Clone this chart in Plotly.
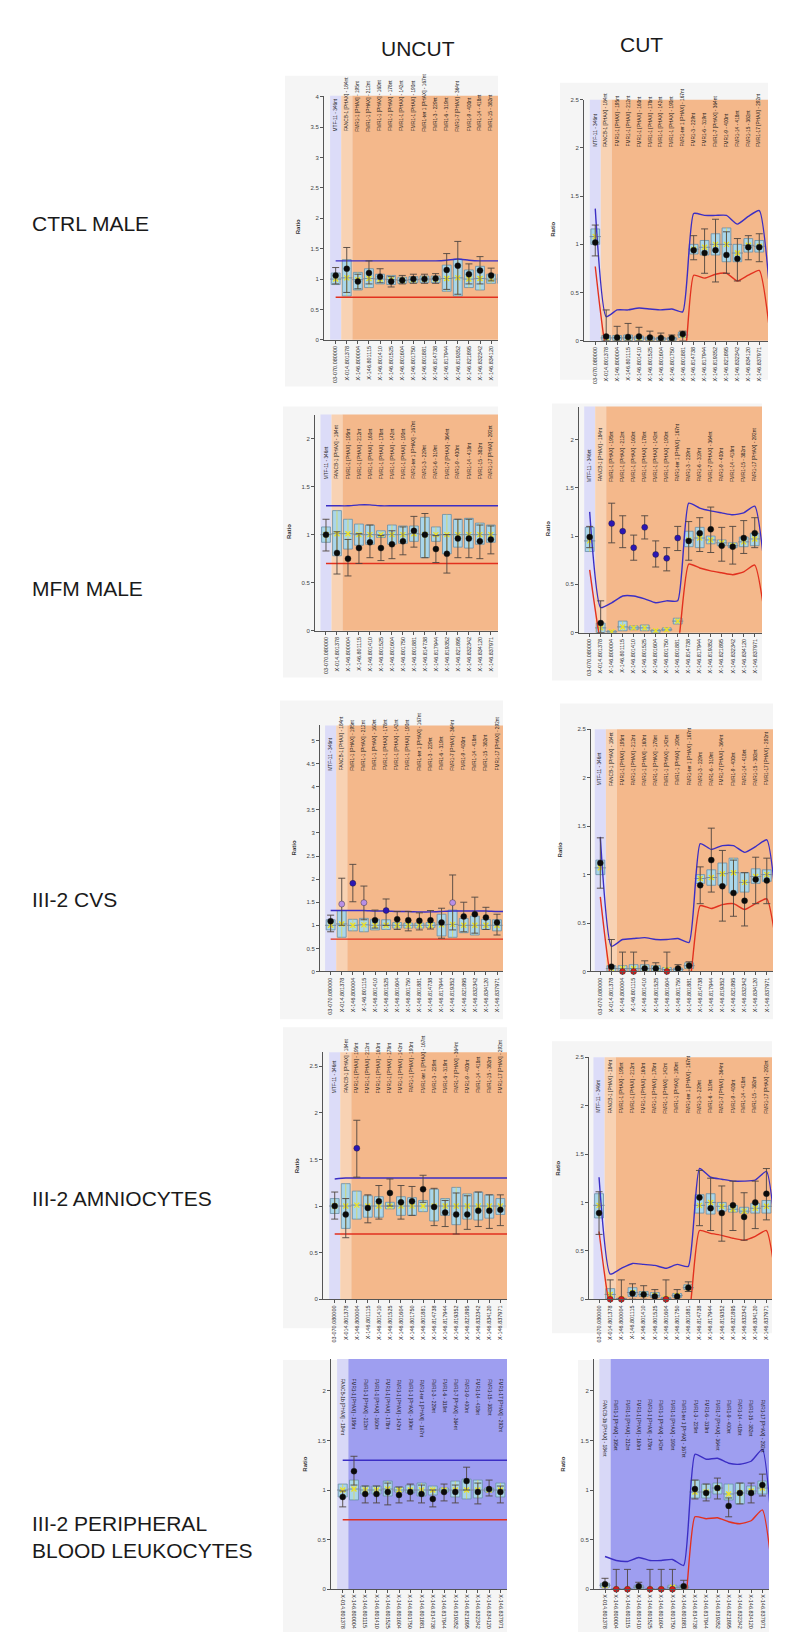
import plotly.graph_objects as go

# page is rendered inside a body with an 8px default margin: lay out in window pixels
OFF = 8
WIN_W, WIN_H = 790, 1651
W, H = WIN_W - OFF, WIN_H - OFF
FONT = "Liberation Sans, Arial, sans-serif"


def px(x):
    return (x - OFF) / W


def py(y):
    return 1 - (y - OFF) / H


# ---------------- labels ----------------
column_titles = ["UNCUT", "CUT"]
row_titles = ["CTRL MALE", "MFM MALE", "III-2 CVS", "III-2 AMNIOCYTES",
              "III-2 PERIPHERAL<br>BLOOD LEUKOCYTES"]

probe_ids = ["03-070.080000", "X-014.801378", "X-146.800004", "X-146.801115",
             "X-146.801410", "X-146.801525", "X-146.801604", "X-146.801750",
             "X-146.801881", "X-146.814738", "X-146.817944", "X-146.819352",
             "X-146.821895", "X-146.832342", "X-146.834120", "X-146.837971"]
probe_names = ["MTF-11 - 346nt", "FANCB-1 [PHAX] - 184nt", "FMR1-1 [PHAX] - 195nt",
               "FMR1-1 [PHAX] - 212nt", "FMR1-1 [PHAX] - 160nt", "FMR1-1 [PHAX] - 178nt",
               "FMR1-1 [PHAX] - 142nt", "FMR1-1 [PHAX] - 190nt", "FMR1-ter 1 [PHAX] - 167nt",
               "FMR1-3 - 229nt", "FMR1-6 - 319nt", "FMR1-7 [PHAX] - 364nt", "FMR1-9 - 400nt",
               "FMR1-14 - 418nt", "FMR1-15 - 382nt", "FMR1-17 [PHAX] - 292nt"]
pbl_ids = probe_ids[1:]
pbl_names = ["FANCB-1b [PHAX] - 184nt"] + probe_names[2:]

# ---------------- data: CTRL MALE uncut ----------------
ctrl_u_boxlo = [0.91, 0.72, 0.82, 0.86, 0.92, 0.91, 0.93, 0.94, 0.94, 0.94, 0.80, 0.72, 0.86, 0.82, 0.93, 0.93]
ctrl_u_boxhi = [1.10, 1.32, 1.11, 1.17, 1.08, 1.06, 1.03, 1.04, 1.05, 1.05, 1.23, 1.33, 1.15, 1.21, 1.08, 1.08]
ctrl_u_mean = [1.00, 1.02, 0.99, 1.01, 1.00, 0.99, 0.98, 0.99, 1.00, 1.00, 1.01, 1.02, 1.00, 1.01, 1.00, 1.00]
ctrl_u_dot = [1.06, 1.17, 0.96, 1.10, 1.04, 0.96, 0.98, 1.00, 1.00, 1.01, 1.15, 1.22, 1.08, 1.14, 1.06, 1.04]
ctrl_u_errlo = [0.92, 0.78, 0.84, 0.92, 0.94, 0.87, 0.92, 0.93, 0.93, 0.93, 0.83, 0.75, 0.92, 0.92, 0.97, 0.95]
ctrl_u_errhi = [1.19, 1.52, 1.08, 1.30, 1.17, 1.04, 1.06, 1.08, 1.08, 1.09, 1.42, 1.62, 1.25, 1.37, 1.18, 1.14]
ctrl_u_col = ["k"] * 16
ctrl_u_upper = [1.30, 1.30, 1.30, 1.30, 1.30, 1.30, 1.30, 1.30, 1.30, 1.30, 1.31, 1.33, 1.31, 1.30, 1.30, 1.30, 1.30]
ctrl_u_lower = [0.70, 0.70, 0.70, 0.70, 0.70, 0.70, 0.70, 0.70, 0.70, 0.70, 0.70, 0.70, 0.70, 0.70, 0.70, 0.70, 0.70]

# ---------------- CTRL MALE cut ----------------
ctrl_c_boxlo = [1.00, 0.00, 0.00, 0.00, 0.00, 0.00, 0.00, 0.00, 0.035, 0.90, 0.89, 0.89, 0.82, 0.82, 0.92, 0.92]
ctrl_c_boxhi = [1.16, 0.055, 0.055, 0.06, 0.05, 0.04, 0.035, 0.035, 0.09, 1.00, 1.04, 1.11, 1.17, 1.00, 1.06, 1.04]
ctrl_c_mean = [1.08, 0.03, 0.03, 0.03, 0.03, 0.02, 0.02, 0.02, 0.06, 0.95, 0.97, 1.00, 1.00, 0.91, 0.99, 0.98]
ctrl_c_dot = [1.02, 0.045, 0.035, 0.04, 0.045, 0.035, 0.03, 0.03, 0.07, 0.94, 0.91, 0.94, 0.89, 0.85, 0.97, 0.97]
ctrl_c_errlo = [0.88, 0.0, 0.0, 0.0, 0.0, 0.0, 0.0, 0.0, 0.0, 0.84, 0.70, 0.61, 0.70, 0.62, 0.84, 0.82]
ctrl_c_errhi = [1.20, 0.32, 0.15, 0.18, 0.14, 0.10, 0.08, 0.06, 0.10, 1.09, 1.16, 1.26, 1.13, 1.06, 1.09, 1.11]
ctrl_c_col = ["k"] * 16
ctrl_c_upper = [1.37, 0.25, 0.32, 0.32, 0.34, 0.33, 0.32, 0.33, 0.30, 1.32, 1.30, 1.30, 1.30, 1.21, 1.29, 1.35, 0.45]
ctrl_c_lower = [0.77, -0.10, -0.35, -0.35, -0.35, -0.35, -0.35, -0.35, -0.30, 0.68, 0.65, 0.69, 0.70, 0.62, 0.68, 0.73, 0.05]

# ---------------- MFM MALE uncut ----------------
mfm_u_boxlo = [0.92, 0.78, 0.85, 0.89, 0.90, 0.97, 0.90, 0.91, 0.93, 0.76, 0.93, 0.80, 0.87, 0.86, 0.90, 0.92]
mfm_u_boxhi = [1.08, 1.25, 1.16, 1.11, 1.10, 1.04, 1.10, 1.09, 1.09, 1.18, 1.08, 1.21, 1.16, 1.17, 1.12, 1.10]
mfm_u_mean = [1.00, 1.01, 1.01, 1.00, 1.00, 1.00, 1.00, 1.00, 1.01, 1.00, 1.00, 1.00, 1.00, 1.00, 1.00, 1.00]
mfm_u_dot = [1.00, 0.81, 0.75, 0.86, 0.92, 0.86, 0.90, 0.93, 1.04, 1.00, 0.85, 0.80, 0.96, 0.96, 0.93, 0.95]
mfm_u_errlo = [0.83, 0.59, 0.57, 0.70, 0.76, 0.73, 0.75, 0.79, 0.87, 0.76, 0.71, 0.60, 0.76, 0.76, 0.75, 0.80]
mfm_u_errhi = [1.16, 1.03, 0.95, 1.01, 1.10, 0.99, 1.04, 1.08, 1.19, 1.22, 0.99, 1.00, 1.16, 1.16, 1.10, 1.09]
mfm_u_col = ["k"] * 16
mfm_u_upper = [1.30, 1.30, 1.30, 1.31, 1.31, 1.30, 1.30, 1.30, 1.30, 1.30, 1.30, 1.30, 1.30, 1.30, 1.30, 1.30, 1.30]
mfm_u_lower = [0.70, 0.70, 0.70, 0.70, 0.70, 0.70, 0.70, 0.70, 0.70, 0.70, 0.70, 0.70, 0.70, 0.70, 0.70, 0.70, 0.70]

# ---------------- MFM MALE cut ----------------
mfm_c_boxlo = [0.84, 0.00, 0.00, 0.02, 0.03, 0.02, 0.00, 0.02, 0.09, 0.89, 0.88, 0.92, 0.90, 0.88, 0.89, 0.90]
mfm_c_boxhi = [1.09, 0.10, 0.02, 0.12, 0.07, 0.08, 0.03, 0.05, 0.15, 1.05, 1.09, 1.00, 0.96, 0.93, 0.99, 1.03]
mfm_c_mean = [0.95, 0.05, 0.01, 0.06, 0.05, 0.05, 0.02, 0.03, 0.12, 0.96, 0.98, 0.96, 0.93, 0.90, 0.94, 0.97]
mfm_c_dot = [0.99, 0.10, 1.13, 1.05, 0.88, 1.09, 0.81, 0.77, 0.98, 0.95, 1.03, 1.07, 0.90, 0.89, 0.98, 1.03]
mfm_c_errlo = [0.88, 0.00, 0.93, 0.88, 0.75, 0.97, 0.68, 0.64, 0.85, 0.75, 0.84, 0.83, 0.74, 0.71, 0.82, 0.88]
mfm_c_errhi = [1.10, 0.33, 1.34, 1.21, 1.01, 1.21, 0.95, 0.88, 1.10, 1.15, 1.19, 1.30, 1.09, 1.10, 1.16, 1.19]
mfm_c_col = ["k", "k", "b", "b", "b", "b", "b", "b", "b", "k", "k", "k", "k", "k", "k", "k"]
mfm_c_upper = [1.25, 0.26, 0.31, 0.38, 0.38, 0.35, 0.31, 0.33, 0.33, 1.34, 1.29, 1.26, 1.24, 1.22, 1.24, 1.31, 0.55]
mfm_c_lower = [0.65, -0.10, -0.40, -0.40, -0.40, -0.40, -0.40, -0.40, -0.15, 0.71, 0.67, 0.64, 0.62, 0.60, 0.63, 0.70, 0.10]

# ---------------- III-2 CVS uncut ----------------
cvs_u_boxlo = [0.90, 0.74, 0.88, 0.86, 0.90, 0.91, 0.94, 0.94, 0.94, 0.95, 0.77, 0.74, 0.84, 0.79, 0.91, 0.88]
cvs_u_boxhi = [1.12, 1.32, 1.13, 1.15, 1.13, 1.12, 1.06, 1.05, 1.05, 1.06, 1.24, 1.33, 1.15, 1.20, 1.13, 1.12]
cvs_u_mean = [1.00, 1.03, 1.00, 1.01, 1.00, 1.00, 1.00, 1.00, 1.00, 1.00, 1.01, 1.02, 1.00, 1.00, 1.00, 1.00]
cvs_u_dot = [1.09, 1.46, 1.91, 1.49, 1.11, 1.32, 1.13, 1.11, 1.10, 1.11, 1.06, 1.49, 1.19, 1.24, 1.17, 1.06]
cvs_u_errlo = [0.86, 1.00, 1.51, 1.12, 0.94, 1.00, 0.91, 0.88, 0.90, 0.92, 0.72, 0.90, 0.86, 0.83, 0.91, 0.79]
cvs_u_errhi = [1.22, 2.02, 2.32, 1.85, 1.33, 1.57, 1.30, 1.30, 1.27, 1.32, 1.37, 2.09, 1.50, 1.61, 1.39, 1.24]
cvs_u_col = ["k", "p", "b", "p", "k", "b", "k", "k", "k", "k", "k", "p", "k", "k", "k", "k"]
cvs_u_upper = [1.32, 1.32, 1.32, 1.32, 1.31, 1.31, 1.30, 1.30, 1.29, 1.29, 1.30, 1.31, 1.31, 1.31, 1.31, 1.30, 1.30]
cvs_u_lower = [0.70, 0.70, 0.70, 0.70, 0.70, 0.70, 0.70, 0.70, 0.70, 0.70, 0.70, 0.70, 0.70, 0.70, 0.70, 0.70, 0.70]

# ---------------- III-2 CVS cut ----------------
cvs_c_boxlo = [1.00, 0.00, 0.00, 0.00, 0.00, 0.00, 0.00, 0.00, 0.03, 0.91, 0.89, 0.89, 0.81, 0.82, 0.91, 0.93]
cvs_c_boxhi = [1.15, 0.06, 0.06, 0.07, 0.07, 0.06, 0.04, 0.035, 0.09, 1.00, 1.05, 1.12, 1.17, 1.02, 1.06, 1.05]
cvs_c_mean = [1.07, 0.03, 0.03, 0.03, 0.03, 0.03, 0.02, 0.02, 0.06, 0.96, 0.97, 1.01, 1.02, 0.92, 0.98, 1.00]
cvs_c_dot = [1.12, 0.05, 0.00, 0.00, 0.03, 0.03, 0.00, 0.03, 0.06, 0.89, 1.15, 0.88, 0.81, 0.73, 0.95, 0.94]
cvs_c_errlo = [0.86, 0.00, 0.00, 0.00, 0.00, 0.00, 0.00, 0.00, 0.00, 0.70, 0.82, 0.52, 0.57, 0.47, 0.70, 0.70]
cvs_c_errhi = [1.38, 0.33, 0.20, 0.20, 0.11, 0.09, 0.20, 0.07, 0.10, 1.08, 1.48, 1.25, 1.15, 1.02, 1.18, 1.17]
cvs_c_col = ["k", "k", "r", "r", "k", "k", "r", "k", "k", "k", "k", "k", "k", "k", "k", "k"]
cvs_c_upper = [1.39, 0.26, 0.33, 0.34, 0.35, 0.33, 0.33, 0.34, 0.30, 1.32, 1.26, 1.30, 1.30, 1.23, 1.29, 1.36, 0.50]
cvs_c_lower = [0.77, -0.10, -0.35, -0.35, -0.35, -0.35, -0.35, -0.35, -0.15, 0.68, 0.65, 0.69, 0.70, 0.64, 0.70, 0.75, 0.15]

# ---------------- III-2 AMNIOCYTES uncut ----------------
amn_u_boxlo = [0.92, 0.76, 0.86, 0.88, 0.88, 0.97, 0.90, 0.90, 0.94, 0.84, 0.90, 0.80, 0.86, 0.85, 0.87, 0.91]
amn_u_boxhi = [1.08, 1.24, 1.16, 1.11, 1.10, 1.04, 1.10, 1.09, 1.06, 1.18, 1.08, 1.20, 1.13, 1.15, 1.12, 1.08]
amn_u_mean = [1.00, 1.00, 1.01, 1.00, 1.00, 1.00, 1.00, 1.00, 1.00, 1.00, 1.00, 1.00, 1.00, 1.00, 1.00, 1.00]
amn_u_dot = [1.00, 0.91, 1.62, 0.98, 1.05, 1.14, 1.04, 1.05, 1.18, 0.99, 0.93, 0.91, 0.91, 0.95, 0.95, 0.96]
amn_u_errlo = [0.86, 0.66, 1.31, 0.82, 0.86, 1.00, 0.86, 0.90, 1.04, 0.79, 0.78, 0.70, 0.75, 0.78, 0.76, 0.79]
amn_u_errhi = [1.15, 1.08, 1.92, 1.12, 1.22, 1.29, 1.22, 1.21, 1.33, 1.19, 1.06, 1.14, 1.11, 1.15, 1.12, 1.12]
amn_u_col = ["k", "k", "b", "k", "k", "k", "k", "k", "k", "k", "k", "k", "k", "k", "k", "k"]
amn_u_upper = [1.29, 1.30, 1.30, 1.30, 1.30, 1.30, 1.30, 1.30, 1.30, 1.30, 1.30, 1.30, 1.30, 1.30, 1.30, 1.30, 1.30]
amn_u_lower = [0.70, 0.70, 0.70, 0.70, 0.70, 0.70, 0.70, 0.70, 0.70, 0.70, 0.70, 0.70, 0.70, 0.70, 0.70, 0.70, 0.70]

# ---------------- III-2 AMNIOCYTES cut ----------------
amn_c_boxlo = [0.84, 0.00, 0.00, 0.03, 0.03, 0.02, 0.00, 0.02, 0.10, 0.89, 0.88, 0.91, 0.90, 0.89, 0.89, 0.89]
amn_c_boxhi = [1.09, 0.11, 0.01, 0.12, 0.08, 0.07, 0.02, 0.06, 0.15, 1.08, 1.09, 1.00, 0.97, 0.95, 0.99, 1.02]
amn_c_mean = [0.97, 0.05, 0.005, 0.07, 0.05, 0.04, 0.01, 0.04, 0.12, 0.97, 1.00, 0.96, 0.93, 0.91, 0.94, 0.96]
amn_c_dot = [0.89, 0.00, 0.00, 0.06, 0.05, 0.03, 0.00, 0.03, 0.12, 1.05, 0.94, 0.89, 0.97, 0.85, 1.00, 1.09]
amn_c_errlo = [0.67, 0.00, 0.00, 0.00, 0.00, 0.00, 0.00, 0.00, 0.08, 0.76, 0.71, 0.60, 0.71, 0.61, 0.73, 0.82]
amn_c_errhi = [1.11, 0.20, 0.20, 0.16, 0.14, 0.10, 0.20, 0.10, 0.18, 1.33, 1.25, 1.17, 1.22, 1.10, 1.22, 1.35]
amn_c_col = ["k", "r", "r", "k", "k", "k", "r", "k", "k", "k", "k", "k", "k", "k", "k", "k"]
amn_c_upper = [1.26, 0.26, 0.32, 0.37, 0.36, 0.35, 0.32, 0.36, 0.34, 1.35, 1.26, 1.24, 1.22, 1.22, 1.23, 1.32, 0.45]
amn_c_lower = [0.70, -0.10, -0.35, -0.35, -0.35, -0.35, -0.35, -0.35, -0.20, 0.71, 0.68, 0.66, 0.63, 0.61, 0.65, 0.71, 0.05]

# ---------------- III-2 PBL uncut (15 probes) ----------------
pbl_u_boxlo = [0.93, 0.90, 0.96, 0.96, 0.94, 0.98, 0.97, 0.94, 0.95, 0.98, 0.93, 0.91, 0.92, 0.98, 0.93]
pbl_u_boxhi = [1.06, 1.10, 1.04, 1.04, 1.09, 1.03, 1.05, 1.07, 1.04, 1.02, 1.09, 1.11, 1.10, 1.02, 1.07]
pbl_u_mean = [1.00, 1.01, 1.00, 1.00, 1.01, 1.00, 1.00, 1.00, 1.00, 1.00, 1.00, 1.00, 1.00, 1.00, 1.00]
pbl_u_dot = [0.93, 1.19, 0.96, 0.96, 0.98, 0.95, 0.98, 0.96, 0.91, 0.98, 0.98, 1.09, 0.98, 1.01, 0.98]
pbl_u_errlo = [0.83, 1.05, 0.87, 0.87, 0.85, 0.87, 0.89, 0.87, 0.83, 0.89, 0.87, 1.00, 0.86, 0.94, 0.87]
pbl_u_errhi = [0.99, 1.34, 1.04, 1.04, 1.07, 1.03, 1.06, 1.05, 1.00, 1.06, 1.05, 1.23, 1.07, 1.10, 1.04]
pbl_u_col = ["k"] * 15
pbl_u_upper = [1.30, 1.30, 1.30, 1.30, 1.30, 1.30, 1.30, 1.30, 1.30, 1.30, 1.30, 1.30, 1.30, 1.30, 1.30, 1.30]
pbl_u_lower = [0.70, 0.70, 0.70, 0.70, 0.70, 0.70, 0.70, 0.70, 0.70, 0.70, 0.70, 0.70, 0.70, 0.70, 0.70, 0.70]

# ---------------- III-2 PBL cut (15 probes) ----------------
pbl_c_boxlo = [0.02, 0.00, 0.00, 0.00, 0.00, 0.00, 0.00, 0.00, 0.92, 0.92, 0.96, 0.90, 0.86, 0.96, 0.96]
pbl_c_boxhi = [0.06, 0.005, 0.005, 0.04, 0.005, 0.005, 0.04, 0.04, 1.10, 1.06, 1.07, 1.06, 1.07, 1.04, 1.09]
pbl_c_mean = [0.04, 0.00, 0.00, 0.02, 0.00, 0.00, 0.02, 0.02, 0.98, 0.98, 1.02, 0.96, 0.97, 0.99, 1.02]
pbl_c_dot = [0.05, 0.00, 0.00, 0.03, 0.00, 0.00, 0.00, 0.03, 1.01, 0.97, 1.02, 0.84, 0.97, 0.97, 1.05]
pbl_c_errlo = [0.00, 0.00, 0.00, 0.00, 0.00, 0.00, 0.00, 0.00, 0.91, 0.89, 0.91, 0.73, 0.86, 0.87, 0.94]
pbl_c_errhi = [0.11, 0.20, 0.20, 0.07, 0.20, 0.20, 0.20, 0.09, 1.10, 1.06, 1.12, 0.92, 1.07, 1.07, 1.16]
pbl_c_col = ["k", "r", "r", "k", "r", "r", "r", "k", "k", "k", "k", "k", "k", "k", "k"]
pbl_c_upper = [0.33, 0.29, 0.28, 0.32, 0.29, 0.29, 0.30, 0.24, 1.36, 1.31, 1.32, 1.27, 1.26, 1.29, 1.41, 0.35]
pbl_c_lower = [-0.40, -0.40, -0.40, -0.40, -0.40, -0.40, -0.40, -0.25, 0.73, 0.71, 0.72, 0.68, 0.66, 0.69, 0.80, 0.05]

panels = [
    dict(boxlo=ctrl_u_boxlo, boxhi=ctrl_u_boxhi, mean=ctrl_u_mean, dot=ctrl_u_dot, errlo=ctrl_u_errlo, errhi=ctrl_u_errhi, col=ctrl_u_col, upper=ctrl_u_upper, lower=ctrl_u_lower, ids=probe_ids, names=probe_names),
    dict(boxlo=ctrl_c_boxlo, boxhi=ctrl_c_boxhi, mean=ctrl_c_mean, dot=ctrl_c_dot, errlo=ctrl_c_errlo, errhi=ctrl_c_errhi, col=ctrl_c_col, upper=ctrl_c_upper, lower=ctrl_c_lower, ids=probe_ids, names=probe_names),
    dict(boxlo=mfm_u_boxlo, boxhi=mfm_u_boxhi, mean=mfm_u_mean, dot=mfm_u_dot, errlo=mfm_u_errlo, errhi=mfm_u_errhi, col=mfm_u_col, upper=mfm_u_upper, lower=mfm_u_lower, ids=probe_ids, names=probe_names),
    dict(boxlo=mfm_c_boxlo, boxhi=mfm_c_boxhi, mean=mfm_c_mean, dot=mfm_c_dot, errlo=mfm_c_errlo, errhi=mfm_c_errhi, col=mfm_c_col, upper=mfm_c_upper, lower=mfm_c_lower, ids=probe_ids, names=probe_names),
    dict(boxlo=cvs_u_boxlo, boxhi=cvs_u_boxhi, mean=cvs_u_mean, dot=cvs_u_dot, errlo=cvs_u_errlo, errhi=cvs_u_errhi, col=cvs_u_col, upper=cvs_u_upper, lower=cvs_u_lower, ids=probe_ids, names=probe_names),
    dict(boxlo=cvs_c_boxlo, boxhi=cvs_c_boxhi, mean=cvs_c_mean, dot=cvs_c_dot, errlo=cvs_c_errlo, errhi=cvs_c_errhi, col=cvs_c_col, upper=cvs_c_upper, lower=cvs_c_lower, ids=probe_ids, names=probe_names),
    dict(boxlo=amn_u_boxlo, boxhi=amn_u_boxhi, mean=amn_u_mean, dot=amn_u_dot, errlo=amn_u_errlo, errhi=amn_u_errhi, col=amn_u_col, upper=amn_u_upper, lower=amn_u_lower, ids=probe_ids, names=probe_names),
    dict(boxlo=amn_c_boxlo, boxhi=amn_c_boxhi, mean=amn_c_mean, dot=amn_c_dot, errlo=amn_c_errlo, errhi=amn_c_errhi, col=amn_c_col, upper=amn_c_upper, lower=amn_c_lower, ids=probe_ids, names=probe_names),
    dict(boxlo=pbl_u_boxlo, boxhi=pbl_u_boxhi, mean=pbl_u_mean, dot=pbl_u_dot, errlo=pbl_u_errlo, errhi=pbl_u_errhi, col=pbl_u_col, upper=pbl_u_upper, lower=pbl_u_lower, ids=pbl_ids, names=pbl_names),
    dict(boxlo=pbl_c_boxlo, boxhi=pbl_c_boxhi, mean=pbl_c_mean, dot=pbl_c_dot, errlo=pbl_c_errlo, errhi=pbl_c_errhi, col=pbl_c_col, upper=pbl_c_upper, lower=pbl_c_lower, ids=pbl_ids, names=pbl_names),
]

# ---------------- geometry / style (window pixels) ----------------
geoms = [
    dict(L=324, R=498, T=93, B=338, xr=(-1.05, 14.62), ymax=4.02, laby=3.40, card=(285, 73, 498, 385), pbl=False),
    dict(L=584, R=768, T=97, B=339, xr=(-1.03, 15.8), ymax=2.5, laby=1.99, card=(560, 80, 768, 378), pbl=False),
    dict(L=315, R=498, T=413, B=630, xr=(-1.0, 15.65), ymax=2.25, laby=1.56, card=(283, 405, 498, 677), pbl=False),
    dict(L=579, R=762, T=405, B=632, xr=(-0.97, 15.66), ymax=2.34, laby=1.54, card=(552, 402, 762, 680), pbl=False),
    dict(L=320, R=503, T=725, B=972, xr=(-0.96, 15.54), ymax=5.33, laby=4.31, card=(280, 700, 503, 1020), pbl=False),
    dict(L=591, R=773, T=729, B=972, xr=(-0.84, 15.56), ymax=2.5, laby=1.90, card=(560, 703, 773, 1020), pbl=False),
    dict(L=323, R=507, T=1053, B=1301, xr=(-1.06, 15.6), ymax=2.65, laby=2.19, card=(283, 1028, 507, 1330), pbl=False),
    dict(L=589, R=772, T=1058, B=1301, xr=(-0.9, 15.5), ymax=2.5, laby=1.90, card=(552, 1042, 772, 1335), pbl=False),
    dict(L=331, R=507, T=1361, B=1592, xr=(-1.04, 14.59), ymax=2.32, laby=2.14, card=(283, 1362, 507, 1635), pbl=True),
    dict(L=594, R=769, T=1361, B=1592, xr=(-0.98, 14.59), ymax=2.32, laby=1.93, card=(578, 1362, 769, 1635), pbl=True),
]

CARD = "#f5f5f5"
LAV = "#dcdcf8"
ORANGE_L = "#f8d2b3"
ORANGE = "#f4b88b"
PBL_LAV = "#d8d8f7"
PBL_BLUE = "#9e9ef0"
BOX_FILL = "#a9d6ea"
BOX_EDGE = "#6a8ea4"
DOTCOLORS = {"k": "#0a0a0a", "b": "#2a16b4", "r": "#d41c1c", "p": "#b78fe6"}

fig = go.Figure()
shapes, annotations, layout_axes = [], [], {}

for k, (P, G) in enumerate(zip(panels, geoms), start=1):
    xs = "x" if k == 1 else f"x{k}"
    ys = "y" if k == 1 else f"y{k}"
    n = len(P["dot"])
    idx = list(range(n))

    cx0, cy0, cx1, cy1 = G["card"]
    shapes.append(dict(type="rect", xref="paper", yref="paper", x0=px(cx0), x1=px(cx1),
                       y0=py(cy1), y1=py(cy0), fillcolor=CARD, line_width=0, layer="below"))
    if G["pbl"]:
        bands = [(-0.5, 0.5, PBL_LAV), (0.5, G["xr"][1], PBL_BLUE)]
    else:
        bands = [(-0.5, 0.5, LAV), (0.5, 1.5, ORANGE_L), (1.5, G["xr"][1], ORANGE)]
    for b0, b1, c in bands:
        shapes.append(dict(type="rect", xref=xs, yref=f"{ys} domain", x0=b0, x1=b1, y0=0, y1=1,
                           fillcolor=c, line_width=0, layer="below"))

    fig.add_trace(go.Bar(x=idx, base=P["boxlo"], y=[h - l for h, l in zip(P["boxhi"], P["boxlo"])],
                         width=0.8, marker=dict(color=BOX_FILL, line=dict(color=BOX_EDGE, width=0.8)),
                         xaxis=xs, yaxis=ys, showlegend=False, hoverinfo="skip"))
    fig.add_trace(go.Scatter(x=idx, y=P["mean"], mode="markers", xaxis=xs, yaxis=ys, showlegend=False,
                             marker=dict(symbol="line-ew", size=8, line=dict(color="#7c8c96", width=1)),
                             hoverinfo="skip"))
    fig.add_trace(go.Scatter(x=idx, y=P["mean"], mode="markers", xaxis=xs, yaxis=ys, showlegend=False,
                             marker=dict(symbol="x-thin", size=5, line=dict(color="#efe21e", width=1.3)),
                             error_y=dict(type="data", symmetric=False,
                                          array=[h - m for h, m in zip(P["boxhi"], P["mean"])],
                                          arrayminus=[m - l for m, l in zip(P["mean"], P["boxlo"])],
                                          color="rgba(236,214,40,0.75)", thickness=0.8, width=0),
                             hoverinfo="skip"))
    tx = list(range(len(P["upper"])))
    fig.add_trace(go.Scatter(x=tx, y=P["upper"], mode="lines", xaxis=xs, yaxis=ys, showlegend=False,
                             line=dict(color="#3b2ec4", width=1.4, shape="spline", smoothing=0.5),
                             hoverinfo="skip"))
    fig.add_trace(go.Scatter(x=tx, y=P["lower"], mode="lines", xaxis=xs, yaxis=ys, showlegend=False,
                             line=dict(color="#e2311f", width=1.4, shape="spline", smoothing=0.5),
                             hoverinfo="skip"))
    fig.add_trace(go.Scatter(x=idx, y=P["dot"], mode="markers", xaxis=xs, yaxis=ys, showlegend=False,
                             cliponaxis=False,
                             marker=dict(size=6, color=[DOTCOLORS[c] for c in P["col"]],
                                         line=dict(color="#222222", width=0.4)),
                             error_y=dict(type="data", symmetric=False,
                                          array=[h - d for h, d in zip(P["errhi"], P["dot"])],
                                          arrayminus=[d - l for d, l in zip(P["dot"], P["errlo"])],
                                          color="#4f4540", thickness=0.9, width=3.5)))

    ang = 90 if G["pbl"] else -90
    layout_axes["xaxis" if k == 1 else f"xaxis{k}"] = dict(
        domain=[px(G["L"]), px(G["R"])], range=list(G["xr"]), anchor=ys,
        tickmode="array", tickvals=idx, ticktext=P["ids"], tickangle=ang,
        tickfont=dict(size=5.5, color="#2a2a2a", family=FONT),
        showline=True, linecolor="#555555", linewidth=1, ticks="outside", ticklen=3,
        tickcolor="#555555", showgrid=False, zeroline=False, fixedrange=True)
    layout_axes["yaxis" if k == 1 else f"yaxis{k}"] = dict(
        domain=[py(G["B"]), py(G["T"])], range=[0, G["ymax"]], anchor=xs,
        tick0=0, dtick=0.5, tickfont=dict(size=6, color="#444444", family=FONT),
        showline=True, linecolor="#555555", linewidth=1, ticks="outside", ticklen=3,
        tickcolor="#555555", showgrid=False, zeroline=False, fixedrange=True)

    for i, name in enumerate(P["names"]):
        annotations.append(dict(x=i, y=G["laby"], xref=xs, yref=ys, text=name, showarrow=False,
                                textangle=ang, xanchor="center",
                                yanchor="top" if G["pbl"] else "bottom",
                                font=dict(size=4.8, color="#241c1c", family=FONT)))
    annotations.append(dict(x=px(G["L"] - 26), y=py((G["T"] + G["B"]) / 2), xref="paper", yref="paper",
                            text="<b>Ratio</b>", showarrow=False, textangle=-90,
                            font=dict(size=6, color="#333333", family=FONT)))

for t, cx, cy in zip(column_titles, [418, 665], [32, 28]):
    annotations.append(dict(x=px(cx), y=py(cy), xref="paper", yref="paper", text=t, showarrow=False,
                            font=dict(size=21, color="#1a1a1a", family=FONT)))
for t, cy in zip(row_titles, [221, 588, 900, 1200, 1540]):
    annotations.append(dict(x=px(30), y=py(cy), xref="paper", yref="paper", text=t, showarrow=False,
                            xanchor="left", yanchor="middle", align="left",
                            font=dict(size=21, color="#1a1a1a", family=FONT)))

fig.update_layout(width=W, height=H, margin=dict(l=0, r=0, t=0, b=0),
                  paper_bgcolor="white", plot_bgcolor="rgba(0,0,0,0)",
                  showlegend=False, shapes=shapes, annotations=annotations,
                  barmode="overlay", font=dict(family=FONT), **layout_axes)

fig.write_html("out.html")
